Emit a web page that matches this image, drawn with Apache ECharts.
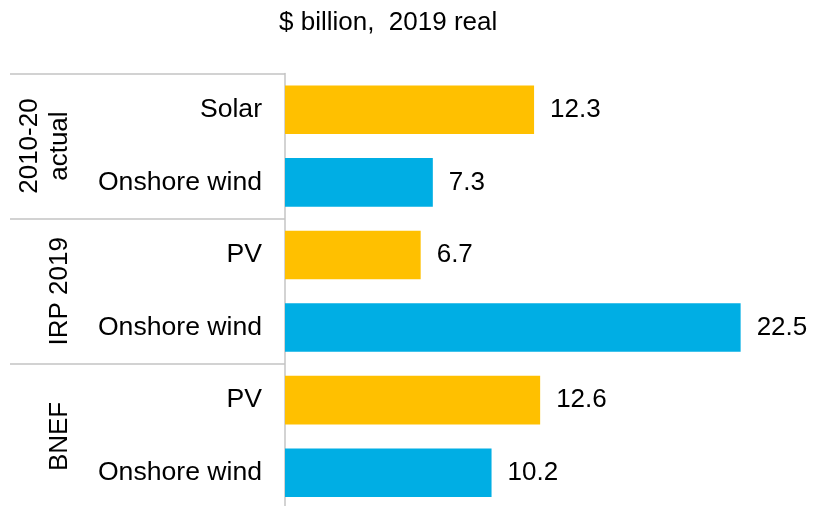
<!DOCTYPE html>
<html>
<head>
<meta charset="utf-8">
<script src="https://cdn.jsdelivr.net/npm/echarts@6/dist/echarts.min.js"></script>
<style>
  html, body { margin: 0; padding: 0; background: #fff; }
  #chart { width: 814px; height: 506px; }
</style>
</head>
<body>
<div id="chart"></div>
<script>
// Investment per technology, grouped by source
const groups = ['2010-20\nactual', 'IRP 2019', 'BNEF'];
const technologies = ['Solar', 'Onshore wind', 'PV', 'Onshore wind', 'PV', 'Onshore wind'];
const techKind = ['solar', 'wind', 'solar', 'wind', 'solar', 'wind'];
const values = [12.3, 7.3, 6.7, 22.5, 12.6, 10.2];
const unitLabel = '$ billion,  2019 real';

const colors = { solar: '#FFC000', wind: '#00AEE4' };
const FONT = '"Liberation Sans", Arial, sans-serif';
const AXIS_GREY = '#C4C4C4';

const chart = echarts.init(document.getElementById('chart'), null, { renderer: 'canvas' });

chart.setOption({
  animation: false,
  backgroundColor: '#fff',
  title: {
    text: unitLabel,
    left: 274,
    top: 5,
    textStyle: { fontFamily: FONT, fontSize: 26, fontWeight: 'normal', color: '#000' }
  },
  grid: {
    left: 285, top: 73.5, width: 506.25, height: 435.5,
    outerBoundsMode: 'none'
  },
  xAxis: {
    type: 'value',
    min: 0,
    max: 25,
    show: false
  },
  yAxis: [
    {
      type: 'category',
      position: 'left',
      inverse: true,
      data: technologies,
      axisLine: { show: false },
      axisTick: { show: false },
      axisLabel: {
        interval: 0,
        margin: 23,
        fontFamily: FONT,
        fontSize: 26.6,
        color: '#000'
      }
    },
    {
      // Source groups: ticks at band edges act as row separators
      type: 'category',
      position: 'left',
      inverse: true,
      data: groups,
      axisLine: { show: true, lineStyle: { color: AXIS_GREY, width: 1.5 } },
      axisTick: { show: true, length: 275, lineStyle: { color: AXIS_GREY, width: 1.5 } },
      axisLabel: {
        interval: 0,
        rotate: 90,
        margin: 210,
        fontFamily: FONT,
        fontSize: 26,
        lineHeight: 30,
        color: '#000'
      }
    }
  ],
  series: [
    {
      type: 'bar',
      yAxisIndex: 0,
      barCategoryGap: '33%',
      data: values.map((v, i) => ({ value: v, itemStyle: { color: colors[techKind[i]] } })),
      label: {
        show: true,
        position: 'right',
        distance: 16,
        fontFamily: FONT,
        fontSize: 26,
        color: '#000',
        formatter: p => p.value.toFixed(1)
      }
    }
  ]
});
</script>
</body>
</html>
